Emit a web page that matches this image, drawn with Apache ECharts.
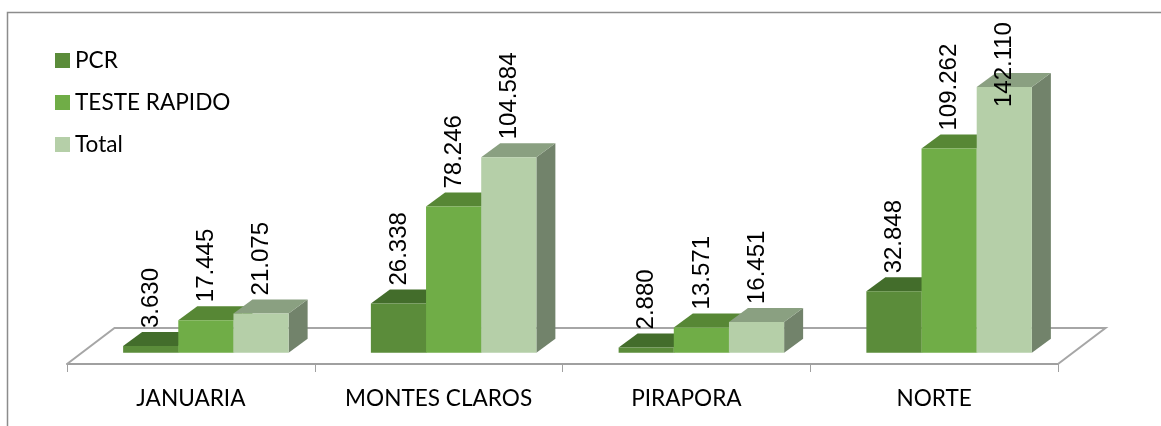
<!DOCTYPE html>
<html><head><meta charset="utf-8">
<style>html,body{margin:0;padding:0;background:#fff}#c{width:1161px;height:426px}</style>
<script src="https://cdn.jsdelivr.net/npm/echarts@6/dist/echarts.min.js"></script>
</head><body><div id="c"></div>
<script>
const categories = ['JANUARIA', 'MONTES CLAROS', 'PIRAPORA', 'NORTE'];
const pcr = [3630, 26338, 2880, 32848];
const testeRapido = [17445, 78246, 13571, 109262];
const total = [21075, 104584, 16451, 142110];
const seriesNames = ['PCR', 'TESTE RAPIDO', 'Total'];
const labelText = v => (v / 1000).toFixed(3);

const faces = [
  {front: '#5b8c3a', top: '#436d2b', side: '#4a7530'},
  {front: '#70ad47', top: '#578735', side: '#5d903b'},
  {front: '#b5cfa8', top: '#8aa081', side: '#72836b'}
];
const DX = 19, DY = -14, SHIFT = 15, FLOOR_DX = 47.5, FLOOR_DY = -36;

function barSeries(name, idx, values) {
  return {
    type: 'custom', name, coordinateSystem: 'cartesian2d', clip: false, z: 3 + idx,
    itemStyle: {color: faces[idx].front},
    data: values.map((v, i) => [i, v]),
    encode: {x: 0, y: 1},
    renderItem(params, api) {
      const cat = api.value(0), val = api.value(1);
      const base = api.coord([cat, 0]), head = api.coord([cat, val]);
      const w = api.size([1, 0])[0] * 0.668 / 3;
      const x0 = base[0] + SHIFT + (idx - 1.5) * w, x1 = x0 + w;
      const yb = base[1], yt = head[1];
      const f = faces[idx];
      const poly = (pts, fill) => ({type: 'polygon', shape: {points: pts}, style: {fill}});
      return {type: 'group', children: [
        poly([[x1, yt], [x1 + DX, yt + DY], [x1 + DX, yb + DY], [x1, yb]], f.side),
        poly([[x0, yt], [x0 + DX, yt + DY], [x1 + DX, yt + DY], [x1, yt]], f.top),
        poly([[x0, yt], [x1, yt], [x1, yb], [x0, yb]], f.front),
        {type: 'text', x: (x0 + x1) / 2 + 0.5, y: Math.max(yt - 18, 107), rotation: Math.PI / 2, z2: 50,
          style: {text: labelText(val), fill: '#000', font: '24px "Liberation Sans"',
            align: 'left', verticalAlign: 'middle'}}
      ]};
    }
  };
}

const option = {
  animation: false,
  backgroundColor: '#fff',
  grid: {left: 67, top: 20, width: 991, height: 344, containLabel: false},
  legend: {
    left: 50, top: 42, orient: 'vertical', itemWidth: 15, itemHeight: 15, itemGap: 15, icon: 'rect',
    data: seriesNames, selectedMode: false,
    textStyle: {fontFamily: 'Lato', fontSize: 22.6, color: '#000', lineHeight: 27}
  },
  xAxis: {
    type: 'category', data: categories, boundaryGap: true,
    axisLine: {show: true, onZero: false, lineStyle: {color: '#a0a0a0', width: 2}},
    axisTick: {show: true, alignWithLabel: false, length: 8, lineStyle: {color: '#a0a0a0', width: 1}},
    axisLabel: {color: '#000', fontFamily: 'Lato', fontSize: 22.6, margin: 23, interval: 0}
  },
  yAxis: {type: 'value', min: -6000, max: 178000, show: false, splitLine: {show: false}},
  graphic: [{type: 'polyline', silent: true, z: 0,
    shape: {points: [[7.5, 426], [7.5, 12.5], [1161, 12.5]]},
    style: {stroke: '#8c8c8c', lineWidth: 1.5, fill: null}}],
  series: [
    {
      type: 'custom', name: 'floor', z: 1, silent: true, clip: false, data: [[0, 0]],
      encode: {x: 0, y: 1},
      renderItem(params) {
        const c = params.coordSys, b = c.y + c.height, l = c.x, r = c.x + c.width;
        return {type: 'polyline',
          shape: {points: [[l, b], [l + FLOOR_DX, b + FLOOR_DY], [r + FLOOR_DX, b + FLOOR_DY], [r, b]]},
          style: {stroke: '#a6a6a6', lineWidth: 2, fill: null}};
      }
    },
    barSeries(seriesNames[0], 0, pcr),
    barSeries(seriesNames[1], 1, testeRapido),
    barSeries(seriesNames[2], 2, total)
  ]
};
echarts.init(document.getElementById('c')).setOption(option);
</script></body></html>
